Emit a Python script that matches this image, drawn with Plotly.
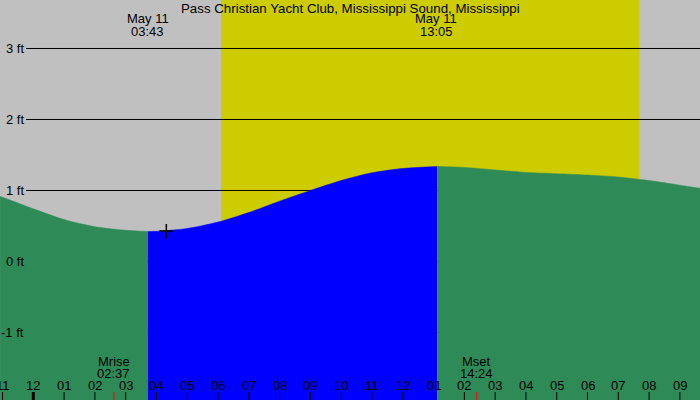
import plotly.graph_objects as go

# ---- data (hours relative to midnight May 11, heights in ft) ----
tide_hours = [-1.08, -1.0, 0.0, 1.0, 2.0, 3.0, 3.72, 4.0, 5.0, 6.0, 7.0, 8.0, 9.0, 10.0,
              11.0, 12.0, 13.12, 14.0, 15.0, 16.0, 17.0, 18.0, 19.0, 20.0, 21.0, 21.66]
tide_ft = [0.915, 0.905, 0.742, 0.59, 0.49, 0.44, 0.423, 0.425, 0.465, 0.555, 0.69, 0.85,
           1.00, 1.14, 1.25, 1.31, 1.338, 1.325, 1.29, 1.255, 1.237, 1.218, 1.19, 1.14,
           1.075, 1.03]
low_hour, low_label = 3.72, "03:43"
high_hour, high_label = 13.12, "13:05"
sunrise_hour, sunset_hour = 6.10, 19.68
moonrise_hour, moonrise_label = 2.62, "02:37"
moonset_hour, moonset_label = 14.40, "14:24"
marker_hour, marker_ft = 4.32, 0.43
tick_hours = list(range(-1, 22))
tick_labels = ["%02d" % (((h % 24) % 12) or 12) for h in tick_hours]
grid_ft = [3, 2, 1, 0, -1]
grid_labels = ["3 ft", "2 ft", "1 ft", "0 ft", "-1 ft"]
title = "Pass Christian Yacht Club, Mississippi Sound, Mississippi"

X_RANGE = [-1.082, 21.653]
Y_RANGE = [-1.951, 3.683]

GRAY = "#C0C0C0"
YELLOW = "#CCCC00"
GREEN = "#2E8B57"
BLUE = "#0000FF"
FONT = "Liberation Sans, Arial, sans-serif"
FS = 13

fig = go.Figure()


def segment(h0, h1, color):
    xs = [h for h in tide_hours if h0 <= h <= h1]
    ys = [v for h, v in zip(tide_hours, tide_ft) if h0 <= h <= h1]
    fig.add_trace(go.Scatter(x=xs, y=[Y_RANGE[0] - 1] * len(xs), mode="lines",
                             line=dict(width=0, color=color), hoverinfo="skip", showlegend=False))
    fig.add_trace(go.Scatter(x=xs, y=ys, mode="lines", fill="tonexty", fillcolor=color,
                             line=dict(color=color, width=0.5, shape="spline", smoothing=0.8),
                             hoverinfo="skip", showlegend=False))


segment(tide_hours[0], low_hour, GREEN)
segment(low_hour, high_hour, BLUE)
segment(high_hour, tide_hours[-1], GREEN)

fig.add_trace(go.Scatter(x=[marker_hour], y=[marker_ft], mode="markers",
                         marker=dict(symbol="cross-thin", size=10,
                                     line=dict(color="black", width=1.5)),
                         hoverinfo="skip", showlegend=False))

shapes = [dict(type="rect", xref="x", yref="paper", x0=sunrise_hour, x1=sunset_hour,
               y0=0, y1=1, fillcolor=YELLOW, line=dict(width=0), layer="below")]
for g in grid_ft:
    shapes.append(dict(type="line", xref="paper", yref="y", x0=26 / 700, x1=1, y0=g, y1=g,
                       line=dict(color="black", width=1), layer="below"))
for h in tick_hours:
    shapes.append(dict(type="line", xref="x", yref="paper", x0=h, x1=h, y0=0, y1=8 / 400,
                       line=dict(color="black", width=1)))
# midnight tick (thick) and moon ticks (red)
shapes.append(dict(type="line", xref="x", yref="paper", x0=0, x1=0, y0=0, y1=8 / 400,
                   line=dict(color="black", width=3)))
for mh in [moonrise_hour, moonset_hour]:
    shapes.append(dict(type="line", xref="x", yref="paper", x0=mh, x1=mh, y0=0, y1=8 / 400,
                       line=dict(color="#FF0000", width=1)))

ann = []


def txt(x, yp, text, xref="x", xanchor="center", size=FS):
    ann.append(dict(x=x, y=1 - yp / 400, xref=xref, yref="paper", text=text, showarrow=False,
                    xanchor=xanchor, yanchor="middle", borderpad=0,
                    font=dict(family=FONT, size=size, color="black")))


txt(0.5, 8, title, xref="paper", size=13.3)
txt(low_hour, 19, "May 11")
txt(low_hour, 31, low_label)
txt(13.08, 19, "May 11")
txt(13.08, 31, high_label)
txt(moonrise_hour, 361, "Mrise")
txt(moonrise_hour, 373, moonrise_label)
txt(moonset_hour, 361, "Mset")
txt(moonset_hour, 373, moonset_label)
for h, lab in zip(tick_hours, tick_labels):
    txt(h, 385, lab)
for g, lab in zip(grid_ft, grid_labels):
    ann.append(dict(x=25 / 700, y=g, xref="paper", yref="y", text=lab, showarrow=False,
                    xanchor="right", yanchor="middle", borderpad=0,
                    font=dict(family=FONT, size=FS, color="black")))

fig.update_layout(
    width=700, height=400, margin=dict(l=0, r=0, t=0, b=0),
    paper_bgcolor=GRAY, plot_bgcolor=GRAY,
    xaxis=dict(range=X_RANGE, showgrid=False, zeroline=False, showticklabels=False, fixedrange=True),
    yaxis=dict(range=Y_RANGE, showgrid=False, zeroline=False, showticklabels=False, fixedrange=True),
    shapes=shapes, annotations=ann, showlegend=False,
)
fig.write_html("out.html", config={"displayModeBar": False},
               post_script="document.body.style.margin='0';document.body.style.overflow='hidden';")
